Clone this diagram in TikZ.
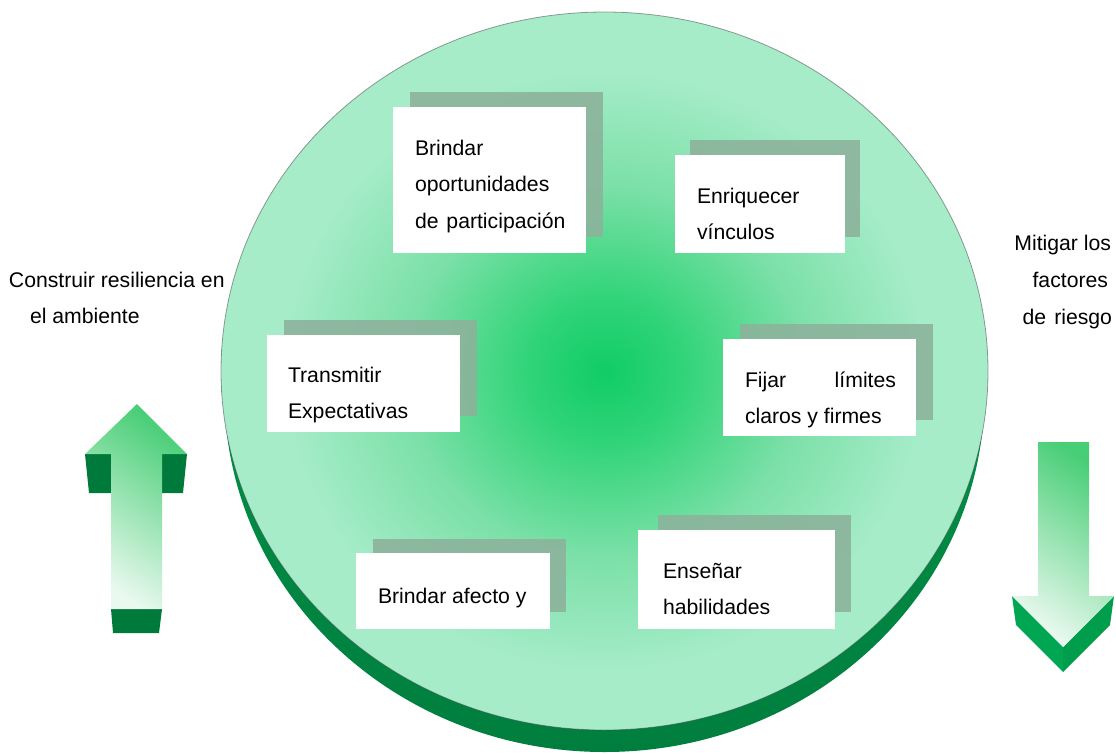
\documentclass[tikz,border=0pt]{standalone}
\usepackage{fontspec}
\setmainfont{Liberation Sans}
\usetikzlibrary{shadings}
\definecolor{mintout}{HTML}{A6ECC9}
\definecolor{mintmid}{HTML}{7CE0A8}
\definecolor{greencore}{HTML}{10CC66}
\definecolor{greenin}{HTML}{30D478}
\definecolor{crestop}{HTML}{00A24F}
\definecolor{cresbot}{HTML}{007E3E}
\definecolor{arrowdark}{HTML}{007A3A}
\definecolor{arrowmid}{HTML}{00A651}
\definecolor{arrowmidb}{HTML}{009E4C}
\definecolor{arrowlight}{HTML}{EAF9EF}
\definecolor{arrowgreen}{HTML}{48CE76}
\definecolor{shadowgreen}{HTML}{8CB39C}
\pgfdeclareradialshading{discshade}{\pgfpoint{0bp}{0bp}}{%
  color(0bp)=(greencore); color(5bp)=(greenin); color(13bp)=(mintmid);
  color(21bp)=(mintout); color(25bp)=(mintout); color(50bp)=(mintout)}
\tikzset{
  txt/.style={inner sep=0pt, outer sep=0pt, font=\fontsize{21.2}{24}\selectfont, text=black},
  card/.style={fill=white, draw=none},
  cardshadow/.style={fill=shadowgreen, fill opacity=0.9, draw=none},
  arrowbody/.style={shading=axis, top color=arrowgreen, bottom color=arrowlight, shading angle=-35, draw=none},
}
\begin{document}
\begin{tikzpicture}[x=1pt,y=-1pt]
\useasboundingbox (0,0) rectangle (1116,753);
% disc base (green crescent)
\shade[top color=crestop, bottom color=cresbot] (604.5,393) ellipse [x radius=380, y radius=359];
% disc
\shade[shading=discshade] (604.5,371) ellipse [x radius=383.5, y radius=359];
\draw[black!75, line width=0.8pt, opacity=0.5] (604.5,371) ellipse [x radius=383.5, y radius=359];

% cards
\fill[cardshadow] (410,92) rectangle (603,237);
\fill[card] (393,107) rectangle (586,253);
\node[txt, anchor=base west] (b1a) at (415,155) {Brindar};
\node[txt, anchor=base west] (b1b) at (415,191.5) {oportunidades};
\node[txt, anchor=base west] (b1c) at (415,228) {de\hspace{2pt} participación};

\fill[cardshadow] (690,140) rectangle (860,237);
\fill[card] (675,155) rectangle (845,253);
\node[txt, anchor=base west] (b2a) at (697,203) {Enriquecer};
\node[txt, anchor=base west] (b2b) at (697,239.5) {vínculos};

\fill[cardshadow] (284,320) rectangle (477,416);
\fill[card] (267,335) rectangle (460,432);
\node[txt, anchor=base west] (b3a) at (288,382) {Transmitir};
\node[txt, anchor=base west] (b3b) at (288,418.5) {Expectativas};

\fill[cardshadow] (740,324) rectangle (933,420);
\fill[card] (723,339) rectangle (916,436);
\node[txt, anchor=base west] (b4a) at (745,387) {\makebox[151pt][l]{Fijar\hfill límites}};
\node[txt, anchor=base west] (b4b) at (745,423.5) {claros y firmes};

\fill[cardshadow] (373,539) rectangle (566,612);
\fill[card] (356,553) rectangle (550,629);
\node[txt, anchor=base west] (b5a) at (378,603) {Brindar afecto y};

\fill[cardshadow] (658,515) rectangle (851,612);
\fill[card] (638,530) rectangle (835,629);
\node[txt, anchor=base west] (b6a) at (663,578) {Enseñar};
\node[txt, anchor=base west] (b6b) at (663,614.5) {habilidades};

% side labels
\node[txt, anchor=base west] (l1) at (9,287) {Construir resiliencia en};
\node[txt, anchor=base west] (l2) at (30,323.5) {el ambiente};
\node[txt, anchor=base east] (r1) at (1111,250) {Mitigar los};
\node[txt, anchor=base east] (r2) at (1108,287) {factores};
\node[txt, anchor=base east] (r3) at (1112,324.5) {de\hspace{8pt}riesgo};

% left arrow (up)
\fill[arrowdark] (85,454) -- (111,454) -- (111,493) -- (89,493) -- cycle;
\fill[arrowdark] (162,454) -- (187,454) -- (183,493) -- (162,493) -- cycle;
\fill[arrowdark] (111,609) -- (162,609) -- (159,633) -- (113,633) -- cycle;
\shade[arrowbody] (137,404) -- (187,454) -- (162,454) -- (162,609) -- (111,609) -- (111,454) -- (85,454) -- cycle;

% right arrow (down)
\fill[arrowmid] (1012,596) -- (1063,647) -- (1063,672) -- (1016,625) -- cycle;
\fill[arrowmidb] (1063,647) -- (1114,596) -- (1110,625) -- (1063,672) -- cycle;
\shade[arrowbody] (1038,442) -- (1089,442) -- (1089,596) -- (1114,596) -- (1063,647) -- (1012,596) -- (1038,596) -- cycle;
\end{tikzpicture}
\end{document}
